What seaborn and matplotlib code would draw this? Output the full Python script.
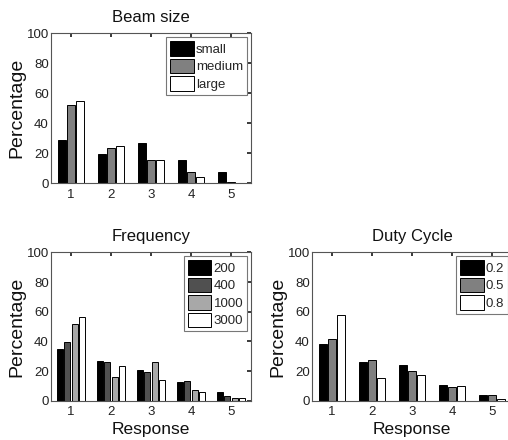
import matplotlib
matplotlib.use("Agg")
import matplotlib.pyplot as plt
import seaborn as sns
import pandas as pd

responses = ["1", "2", "3", "4", "5"]

beam_labels = ["small", "medium", "large"]
beam_small = [28.6, 19.6, 26.8, 15.6, 7.6]
beam_medium = [52.0, 23.4, 15.8, 7.6, 0.7]
beam_large = [54.7, 24.6, 15.8, 4.5, 0.0]
beam_colors = ["#000000", "#808080", "#ffffff"]

freq_labels = ["200", "400", "1000", "3000"]
freq_200 = [35.2, 27.1, 20.9, 12.8, 5.6]
freq_400 = [39.7, 25.8, 19.5, 13.2, 3.4]
freq_1000 = [51.4, 15.9, 25.8, 7.0, 1.8]
freq_3000 = [56.7, 23.5, 14.3, 5.6, 1.8]
freq_colors = ["#000000", "#505050", "#a8a8a8", "#ffffff"]

duty_labels = ["0.2", "0.5", "0.8"]
duty_02 = [38.3, 26.0, 23.8, 10.3, 3.6]
duty_05 = [41.7, 27.4, 20.2, 9.4, 3.6]
duty_08 = [57.6, 15.0, 17.3, 9.9, 1.3]
duty_colors = ["#000000", "#808080", "#ffffff"]

sns.set_theme(style="white")
plt.rcParams["font.family"] = ["Liberation Sans", "DejaVu Sans"]


def long_df(labels, series):
    rows = []
    for lab, vals in zip(labels, series):
        for r, v in zip(responses, vals):
            rows.append({"Response": r, "Percentage": v, "group": lab})
    return pd.DataFrame(rows)


def panel(ax, title, labels, series, colors, width, xlabel):
    df = long_df(labels, series)
    sns.barplot(data=df, x="Response", y="Percentage", hue="group",
                hue_order=labels, palette=colors, order=responses,
                width=width, gap=0.15, edgecolor="black", linewidth=0.7,
                saturation=1, ax=ax)
    ax.set_xlim(-0.5, 4.5)
    ax.set_ylim(0, 100)
    ax.set_yticks([0, 20, 40, 60, 80, 100])
    ax.set_title(title, fontsize=12, pad=8, color="#111111")
    ax.set_ylabel("Percentage", fontsize=14, color="#111111")
    ax.yaxis.set_label_coords(-0.13, 0.5)
    ax.set_xlabel(xlabel, fontsize=12.5, labelpad=3, color="#111111")
    ax.tick_params(axis="both", direction="in", length=3, labelsize=9.5,
                   top=True, right=True, colors="#222222")
    ax.tick_params(axis="y", pad=1.5)
    ax.tick_params(axis="x", pad=4)
    for s in ax.spines.values():
        s.set_color("#555555")
        s.set_linewidth(0.8)
    leg = ax.legend(loc="upper right", fontsize=9.5, handlelength=1.8,
                    handleheight=1.3, handletextpad=0.15, labelspacing=0.22,
                    borderpad=0.3, borderaxespad=0.3, fancybox=False,
                    framealpha=1, edgecolor="#777777")
    leg.get_frame().set_linewidth(0.8)
    leg.set_title(None)


fig = plt.figure(figsize=(5.08, 4.40), dpi=100)
ax1 = fig.add_axes([0.1004, 0.5834, 0.3937, 0.341])
ax2 = fig.add_axes([0.1004, 0.0893, 0.3937, 0.337])
ax3 = fig.add_axes([0.614, 0.0893, 0.3937, 0.337])

panel(ax1, "Beam size", beam_labels, [beam_small, beam_medium, beam_large],
      beam_colors, 0.667, "")
panel(ax2, "Frequency", freq_labels, [freq_200, freq_400, freq_1000, freq_3000],
      freq_colors, 0.727, "Response")
panel(ax3, "Duty Cycle", duty_labels, [duty_02, duty_05, duty_08],
      duty_colors, 0.667, "Response")

fig.savefig("out.png", dpi=100)
